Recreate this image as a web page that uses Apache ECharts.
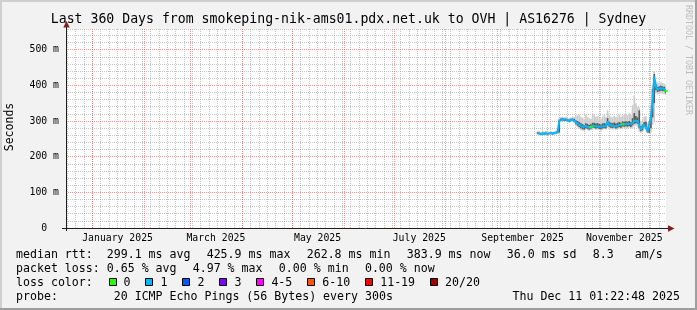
<!DOCTYPE html>
<html><head><meta charset="utf-8">
<script src="https://cdn.jsdelivr.net/npm/echarts@6/dist/echarts.min.js"></script>
<style>html,body{margin:0;padding:0;background:#f2f2f2}#c{width:697px;height:310px}</style>
</head><body><div id="c"></div>
<script>
// ---------- data ----------
const TITLE = 'Last 360 Days from smokeping-nik-ams01.pdx.net.uk to OVH | AS16276 | Sydney';
const rangeStart = [2024, 12, 16, 1, 22, 48];
const rangeEnd = [2025, 12, 11, 1, 22, 48];
const monthStarts = ['2025-01-01','2025-02-01','2025-03-01','2025-04-01','2025-05-01','2025-06-01',
  '2025-07-01','2025-08-01','2025-09-01','2025-10-01','2025-11-01','2025-12-01'];
const monthLabelDates = ['2025-01-16','2025-03-16','2025-05-16','2025-07-16','2025-09-16','2025-11-16'];
const monthLabels = ['January 2025','March 2025','May 2025','July 2025','September 2025','November 2025'];
const yLabelValues = [0, 100, 200, 300, 400, 500];

// one sample per day, 2025-09-25 .. 2025-12-11 (values in ms)
const days = [
  '09-25','09-26','09-27','09-28','09-29','09-30',
  '10-01','10-02','10-03','10-04','10-05','10-06','10-07','10-08','10-09','10-10','10-11','10-12','10-13','10-14','10-15','10-16',
  '10-17','10-18','10-19','10-20','10-21','10-22','10-23','10-24','10-25','10-26','10-27','10-28','10-29','10-30','10-31',
  '11-01','11-02','11-03','11-04','11-05','11-06','11-07','11-08','11-09','11-10','11-11','11-12','11-13','11-14','11-15',
  '11-16','11-17','11-18','11-19','11-20','11-21','11-22','11-23','11-24','11-25','11-26','11-27','11-28','11-29','11-30',
  '12-01','12-02','12-03','12-04','12-05','12-06','12-07','12-08','12-09','12-10','12-11'];
const median = [
  266,266,263,266,265,266,
  264,265,266,264,266,267,269,300,304,305,303,304,302,300,303,304,
  302,297,294,290,287,283,281,286,284,281,283,287,287,285,286,
  284,282,285,286,285,299,290,287,286,288,285,287,289,287,291,
  290,291,290,292,289,294,301,302,300,299,276,280,290,290,271,
  270,313,360,425,395,389,390,392,391,390,384];
const smokeMin = [
  262,262,260,262,261,262,
  261,262,262,261,262,263,264,265,298,299,298,299,297,295,297,298,
  294,287,282,278,275,273,272,276,274,272,274,277,277,275,276,
  275,273,275,277,276,280,279,277,276,278,275,277,279,277,280,
  280,280,279,281,279,281,285,287,284,270,268,270,278,277,266,
  265,268,290,300,378,375,376,377,376,375,373];
const smokeMax = [
  272,271,269,271,270,272,
  270,270,272,269,271,273,276,308,311,312,310,311,309,308,310,312,
  312,314,316,318,312,310,306,318,312,308,306,316,320,312,314,
  309,307,313,318,312,330,316,312,310,315,311,313,318,312,316,
  318,320,316,322,318,345,372,350,340,338,300,305,312,313,295,
  298,330,400,440,412,408,407,410,406,405,400];
const coreLow = [
  264,264,261,264,263,264,
  262,263,264,262,264,265,266,268,301,302,300,301,299,297,300,301,
  298,291,287,283,280,277,276,280,278,276,278,281,281,279,280,
  278,277,279,280,279,288,284,281,280,282,279,281,283,281,285,
  284,285,284,286,283,288,292,294,292,280,271,274,284,283,268,
  267,280,310,350,386,382,383,385,384,383,378];
const coreHigh = [
  268,268,265,268,267,268,
  266,267,268,266,268,269,272,304,307,308,306,307,305,304,306,307,
  306,302,300,297,294,291,289,294,292,289,291,295,295,293,294,
  292,290,293,294,293,308,298,295,294,296,293,295,297,295,299,
  298,299,298,300,297,308,322,314,310,330,286,290,297,298,282,
  282,320,390,432,403,396,397,399,397,396,390];
const lossZeroDays = ['10-27', '11-15', '12-11'];

const statLine1 = ['median rtt:  299.1 ms avg', '425.9 ms max', '262.8 ms min', '383.9 ms now', '36.0 ms sd', '8.3   am/s'];
const statLine2 = ['packet loss: 0.65 % avg', '4.97 % max', '0.00 % min', '0.00 % now'];
const lossLabels = ['0', '1', '2', '3', '4-5', '6-10', '11-19', '20/20'];
const lossColors = ['#26ff00', '#00b8ff', '#0059ff', '#7e00ff', '#ff00ff', '#ff5500', '#ff0000', '#a00000'];
const probeText = 'probe:        20 ICMP Echo Pings (56 Bytes) every 300s';
const stampText = 'Thu Dec 11 01:22:48 2025';

// ---------- helpers ----------
const DAY = 86400000;
const utc = a => Date.UTC(a[0], a[1] - 1, a[2], a[3] || 0, a[4] || 0, a[5] || 0);
const isoMs = s => { const p = s.split('-').map(Number); return Date.UTC(p[0], p[1] - 1, p[2]); };
const dayMs = s => isoMs('2025-' + s);
const tMin = utc(rangeStart), tMax = utc(rangeEnd);
const monthStartMs = monthStarts.map(isoMs);
const labelMs = monthLabelDates.map(isoMs);
const minorMs = [];
for (let t = isoMs('2025-01-01') - 15 * DAY; t <= tMax; t += 5 * DAY) if (t > tMin) minorMs.push(t);

const medianData = days.map((d, i) => [dayMs(d), median[i]]);
const outerData = days.map((d, i) => [dayMs(d), smokeMin[i], smokeMax[i]]);
const coreData = days.map((d, i) => [dayMs(d), coreLow[i], coreHigh[i]]);
const lossZeroData = lossZeroDays.map(d => [dayMs(d), median[days.indexOf(d)]]);

const MONO = 'DejaVu Sans Mono';
const GRID_C = 'rgba(143,143,143,0.5)';
const MGRID_C = 'rgba(222,79,79,0.55)';

function smokeSeries(name, data, color) {
  return {
    type: 'custom', name, data, clip: true, silent: true, z: 3,
    encode: { x: 0, y: [1, 2] },
    renderItem: (params, api) => {
      const t = api.value(0);
      const a = api.coord([t - DAY / 2, api.value(2)]);
      const b = api.coord([t + DAY / 2, api.value(1)]);
      return { type: 'rect', shape: { x: a[0], y: a[1], width: b[0] - a[0], height: Math.max(1, b[1] - a[1]) },
        style: { fill: color } };
    }
  };
}
function vGridSeries(name, times, color) {
  return {
    type: 'custom', name, data: times.map(t => [t, 0]), silent: true, z: 1,
    encode: { x: 0, y: 1 },
    renderItem: (params, api) => {
      const cs = params.coordSys;
      const px = Math.floor(api.coord([api.value(0), 0])[0]) + 0.5;
      return { type: 'line', shape: { x1: px, y1: cs.y, x2: px, y2: cs.y + cs.height },
        style: { stroke: color, lineWidth: 1, lineDash: [1, 1] } };
    }
  };
}

// ---------- legend graphics ----------
const CW = 6.97, GAP = 16.4, LX = 16;
const graphics = [];
const txt = (text, x, y, extra) => graphics.push(Object.assign({ type: 'text', x, y,
  style: Object.assign({ text, font: '11.6px "' + MONO + '"', fill: '#000', textVerticalAlign: 'middle', textAlign: 'left' }, extra || {}) }));
graphics.push({ type: 'rect', shape: { x: 0, y: 0, width: 697, height: 2 }, style: { fill: '#cfcfcf' } });
graphics.push({ type: 'rect', shape: { x: 0, y: 0, width: 2, height: 310 }, style: { fill: '#cfcfcf' } });
graphics.push({ type: 'rect', shape: { x: 695, y: 0, width: 2, height: 310 }, style: { fill: '#9e9e9e' } });
graphics.push({ type: 'rect', shape: { x: 0, y: 308, width: 697, height: 2 }, style: { fill: '#9e9e9e' } });
graphics.push({ type: 'text', x: 348.5, y: 19.5, style: { text: TITLE, font: '13.2px "' + MONO + '"', fill: '#000', textAlign: 'center', textVerticalAlign: 'middle' } });
graphics.push({ type: 'text', x: 10, y: 127, rotation: Math.PI / 2, style: { text: 'Seconds', font: '11.5px "' + MONO + '"', fill: '#000', textAlign: 'center', textVerticalAlign: 'middle' } });
graphics.push({ type: 'text', x: 688, y: 5, rotation: -Math.PI / 2, style: { text: 'RRDTOOL / TOBI OETIKER', font: '8.3px "' + MONO + '"', fill: '#bdbdbd', textAlign: 'left', textVerticalAlign: 'middle' } });
graphics.push({ type: 'line', shape: { x1: 66.5, y1: 231, x2: 66.5, y2: 25 }, style: { stroke: '#1f1f1f', lineWidth: 1 }, z: 10 });
graphics.push({ type: 'line', shape: { x1: 62, y1: 228.5, x2: 669, y2: 228.5 }, style: { stroke: '#1f1f1f', lineWidth: 1 }, z: 10 });
graphics.push({ type: 'polygon', shape: { points: [[66.5, 21], [63.3, 27.5], [69.7, 27.5]] }, style: { fill: '#7f1f1f' }, z: 10 });
graphics.push({ type: 'polygon', shape: { points: [[674.5, 228.5], [668, 225.3], [668, 231.7]] }, style: { fill: '#7f1f1f' }, z: 10 });
let x = LX;
statLine1.forEach(s => { txt(s, x, 254.5); x += s.length * CW + GAP; });
x = LX;
statLine2.forEach(s => { txt(s, x, 268.5); x += s.length * CW + GAP; });
txt('loss color:', LX, 282.5);
x = 108.5;
lossLabels.forEach((lab, i) => {
  graphics.push({ type: 'rect', shape: { x: Math.round(x) + 0.5, y: 278.5, width: 7, height: 7 }, style: { fill: lossColors[i], stroke: '#000', lineWidth: 1 } });
  txt(lab, x + 15, 282.5);
  x += 15 + lab.length * CW + 15;
});
txt(probeText, LX, 296.5);
txt(stampText, 680, 296.5, { textAlign: 'right' });

const chart = echarts.init(document.getElementById('c'), null, { renderer: 'canvas' });
chart.setOption({
  animation: false,
  backgroundColor: '#f2f2f2',
  grid: { left: 66, top: 29, width: 600, height: 199, show: true, backgroundColor: '#ffffff', borderWidth: 0,
    containLabel: false, outerBoundsMode: 'none' },
  xAxis: {
    type: 'value', position: 'bottom', min: tMin, max: tMax, axisLine: { show: false },
    axisTick: { show: false }, splitLine: { show: false },
    axisLabel: { customValues: labelMs, margin: 5, color: '#000', fontFamily: MONO, fontSize: 9.8,
      formatter: v => { const i = labelMs.indexOf(v); return i >= 0 ? monthLabels[i] : ''; } }
  },
  yAxis: {
    type: 'value', min: 0, max: 558, interval: 20,
    axisLine: { show: false }, axisTick: { show: false },
    axisLabel: { customValues: yLabelValues, margin: 7, color: '#000', fontFamily: MONO, fontSize: 9.8,
      formatter: v => v === 0 ? '0  ' : v + ' m' },
    splitLine: { show: true, lineStyle: { color: [MGRID_C, GRID_C, GRID_C, GRID_C, GRID_C], width: 1, type: [1, 1] } }
  },
  series: [
    vGridSeries('minorGrid', minorMs, GRID_C),
    vGridSeries('majorGrid', monthStartMs, MGRID_C),
    smokeSeries('smoke', outerData, '#cdcdcd'),
    smokeSeries('core', coreData, '#5a5a5a'),
    { type: 'line', name: 'median', data: medianData, showSymbol: false, silent: true,
      lineStyle: { color: '#00b8ff', width: 2 }, itemStyle: { color: '#00b8ff' }, z: 5 },
    { type: 'scatter', name: 'loss0', data: lossZeroData, symbol: 'rect', symbolSize: [4, 2],
      itemStyle: { color: '#26ff00' }, silent: true, z: 6 }
  ],
  graphic: graphics
});
</script></body></html>
